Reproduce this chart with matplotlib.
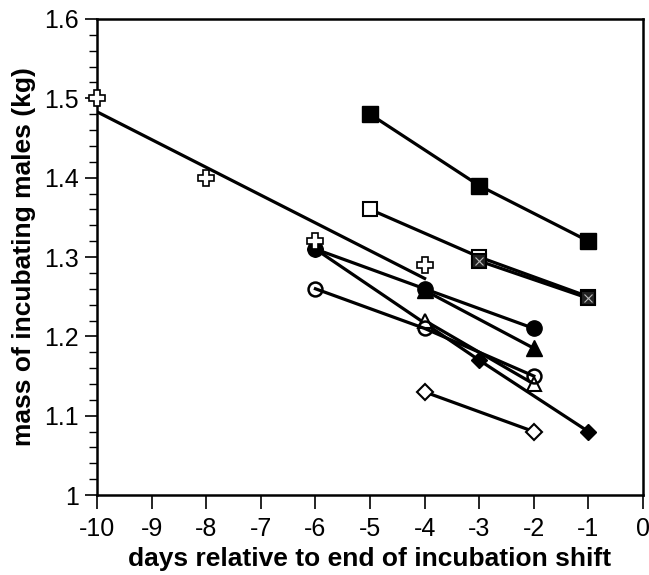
import numpy as np
import matplotlib
matplotlib.use("Agg")
import matplotlib.pyplot as plt
from matplotlib.ticker import MultipleLocator

plt.rcParams['font.family'] = ['Liberation Sans', 'DejaVu Sans']

# data
plus_x = [-10, -8, -6, -4]
plus_y = [1.50, 1.40, 1.32, 1.29]
fit_x = [-10, -4]
fit_y = [1.483, 1.273]

fsq_x = [-5, -3, -1]
fsq_y = [1.48, 1.39, 1.32]
osq_x = [-5, -3, -1]
osq_y = [1.36, 1.30, 1.25]
xsq_x = [-3, -1]
xsq_y = [1.295, 1.248]

fcirc_x = [-6, -4, -2]
fcirc_y = [1.31, 1.26, 1.21]
ftri_x = [-4, -2]
ftri_y = [1.258, 1.185]
ocirc_x = [-6, -4, -2]
ocirc_y = [1.26, 1.21, 1.15]
otri_x = [-4, -2]
otri_y = [1.22, 1.14]
fdia_x = [-6, -3, -1]
fdia_y = [1.31, 1.17, 1.08]
odia_x = [-4, -2]
odia_y = [1.13, 1.08]

xticks = list(range(-10, 1))
yticks = [1.0, 1.1, 1.2, 1.3, 1.4, 1.5, 1.6]
ytick_labels = ["1", "1.1", "1.2", "1.3", "1.4", "1.5", "1.6"]

fig = plt.figure(figsize=(6.49, 5.75), dpi=100)
ax = fig.add_axes([0.1495, 0.139, 0.8413, 0.828])

lw = 2.3
k = "black"
ax.plot(fit_x, fit_y, color=k, lw=lw, zorder=2)

ax.plot(fdia_x, fdia_y, color=k, lw=lw, marker="D", ms=8, mfc=k, mec=k, zorder=3)
ax.plot(odia_x, odia_y, color=k, lw=lw, marker="D", ms=8, mfc="white", mec=k, mew=1.5, zorder=3)
ax.plot(otri_x, otri_y, color=k, lw=lw, marker="^", ms=10, mfc="white", mec=k, mew=1.5, zorder=3)
ax.plot(ocirc_x, ocirc_y, color=k, lw=lw, marker="o", ms=10, mfc="none", mec=k, mew=1.8, zorder=4)
ax.plot(ftri_x, ftri_y, color=k, lw=lw, marker="^", ms=11, mfc=k, mec=k, zorder=3)
ax.plot(fcirc_x, fcirc_y, color=k, lw=lw, marker="o", ms=11, mfc=k, mec=k, zorder=4)

ax.plot(fsq_x, fsq_y, color=k, lw=lw, marker="s", ms=11.5, mfc=k, mec=k, zorder=3)
ax.plot(osq_x, osq_y, color=k, lw=lw, marker="s", ms=10, mfc="white", mec=k, mew=1.5, zorder=3)
ax.plot(xsq_x, xsq_y, color=k, lw=lw, marker="s", ms=10, mfc="#222222", mec=k, mew=1.5, zorder=4)
ax.plot(xsq_x, xsq_y, ls="none", marker="x", ms=6, mec="#bbbbbb", mew=0.8, zorder=5)

ax.plot(plus_x, plus_y, ls="none", marker="P", ms=11, mfc="white", mec=k, mew=1.2,
        zorder=6, clip_on=False)

ax.set_xlim(-10, 0)
ax.set_ylim(1.0, 1.6)
ax.set_xticks(xticks)
ax.set_xticklabels([str(t) for t in xticks])
ax.set_yticks(yticks)
ax.set_yticklabels(ytick_labels)
ax.yaxis.set_minor_locator(MultipleLocator(0.02))

ax.tick_params(axis="x", which="major", direction="out", length=10, width=1.2,
               labelsize=18, pad=6, top=False)
ax.tick_params(axis="y", which="major", direction="out", length=9, width=1.2,
               labelsize=18, pad=4, right=False)
ax.tick_params(axis="y", which="minor", direction="out", length=6, width=1.0, right=False)
for s in ax.spines.values():
    s.set_linewidth(1.8)

ax.set_xlabel("days relative to end of incubation shift", fontsize=19, fontweight="bold", labelpad=4)
ax.set_ylabel("mass of incubating males (kg)", fontsize=19, fontweight="bold", labelpad=6)

fig.savefig("out.png", dpi=100)
